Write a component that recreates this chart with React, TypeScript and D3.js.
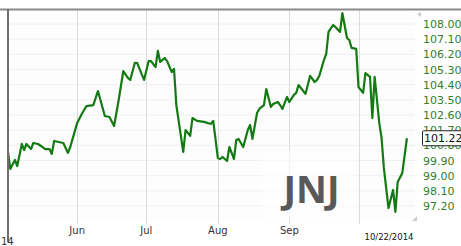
import React from 'react'
import * as d3 from 'd3'

// JNJ daily closes, May - Oct 2014
const dates = [
  '2014-05-02', '2014-05-03', '2014-05-05', '2014-05-06', '2014-05-08', '2014-05-09', '2014-05-10',
  '2014-05-12', '2014-05-13', '2014-05-15', '2014-05-17', '2014-05-18', '2014-05-20', '2014-05-21',
  '2014-05-22', '2014-05-24', '2014-05-26', '2014-05-28', '2014-05-29', '2014-06-01', '2014-06-03',
  '2014-06-05', '2014-06-08', '2014-06-10', '2014-06-13', '2014-06-15', '2014-06-17', '2014-06-19',
  '2014-06-21', '2014-06-23', '2014-06-24', '2014-06-26', '2014-06-27', '2014-06-30', '2014-07-02',
  '2014-07-03', '2014-07-05', '2014-07-06', '2014-07-07', '2014-07-09', '2014-07-10', '2014-07-12',
  '2014-07-13', '2014-07-14', '2014-07-17', '2014-07-18', '2014-07-20', '2014-07-21', '2014-07-23',
  '2014-07-26', '2014-07-29', '2014-07-30', '2014-08-01', '2014-08-02', '2014-08-03', '2014-08-05',
  '2014-08-06', '2014-08-08', '2014-08-09', '2014-08-10', '2014-08-12', '2014-08-14', '2014-08-15',
  '2014-08-16', '2014-08-18', '2014-08-19', '2014-08-21', '2014-08-22', '2014-08-24', '2014-08-25',
  '2014-08-27', '2014-08-28', '2014-08-29', '2014-08-31', '2014-09-01', '2014-09-03', '2014-09-04',
  '2014-09-05', '2014-09-08', '2014-09-10', '2014-09-12', '2014-09-13', '2014-09-14', '2014-09-16',
  '2014-09-17', '2014-09-18', '2014-09-20', '2014-09-21', '2014-09-23', '2014-09-24', '2014-09-26',
  '2014-09-27', '2014-09-28', '2014-09-30', '2014-10-01', '2014-10-03', '2014-10-04', '2014-10-06',
  '2014-10-07', '2014-10-08', '2014-10-10', '2014-10-11', '2014-10-12', '2014-10-14', '2014-10-16',
  '2014-10-17', '2014-10-18', '2014-10-20', '2014-10-22'
]

const closes = [
  100.41, 99.40, 99.93, 99.57, 100.88, 100.52, 100.88,
  100.58, 100.94, 100.88, 100.70, 100.58, 100.58, 100.29,
  101.06, 101.00, 100.94, 100.35, 100.70, 102.13, 102.66,
  103.13, 103.19, 104.02, 102.54, 102.48, 101.95, 103.49,
  105.21, 104.80, 104.68, 105.69, 105.69, 104.68, 105.80,
  105.80, 105.45, 106.40, 105.75, 105.98, 105.80, 105.15,
  105.33, 103.19, 100.41, 101.71, 101.36, 102.42, 102.25,
  102.19, 102.07, 102.25, 100.05, 99.99, 100.11, 99.87,
  100.70, 99.99, 101.12, 101.18, 100.70, 101.71, 102.01,
  101.18, 102.72, 102.96, 103.19, 104.14, 103.08, 103.25,
  103.37, 103.19, 102.96, 103.67, 103.37, 103.79, 103.91,
  104.38, 103.85, 104.92, 104.56, 104.68, 104.92, 105.86,
  106.22, 107.53, 107.94, 107.82, 107.53, 108.65, 107.17,
  107.05, 106.58, 106.52, 104.26, 103.91, 105.09, 104.86,
  102.42, 104.86, 102.13, 101.24, 99.46, 97.08, 98.15,
  96.85, 98.63, 99.16, 101.22
]

const yTicks = [108.0, 107.1, 106.2, 105.3, 104.4, 103.5, 102.6, 101.7, 100.8, 99.9, 99.0, 98.1, 97.2]
const monthTicks = ['2014-06-01', '2014-07-01', '2014-08-01', '2014-09-01', '2014-10-01']
const monthLabels = ['Jun', 'Jul', 'Aug', 'Sep', '']
const lastLabel = '10/22/2014'
const symbol = 'JNJ'

const W = 461
const H = 246
const left = 8, right = 415, top = 10, bottom = 218

export default function App () {
  const parse = d3.timeParse('%Y-%m-%d')
  const data = dates.map((d, i) => ({ date: parse(d) as Date, value: closes[i] }))

  const x = d3.scaleTime()
    .domain([new Date(2014, 4, 2), new Date(2014, 9, 25, 12)])
    .range([left, right])
  const y = d3.scaleLinear()
    .domain([97.2, 108])
    .range([206, 24])

  const line = d3.line<{ date: Date, value: number }>()
    .x(d => x(d.date))
    .y(d => y(d.value))

  const last = data[data.length - 1]
  const font = '"DejaVu Sans", Verdana, sans-serif'

  return (
    <svg width={W} height={H} style={{ position: 'absolute', left: 0, top: 0 }}>
      <rect x={0} y={0} width={W} height={H} fill='#fff' />
      <rect x={left} y={top} width={right - left} height={bottom - top} fill='#fdfdfd' />

      {/* horizontal grid */}
      {yTicks.map(t => (
        <line key={'h' + t} x1={left} x2={right} y1={y(t)} y2={y(t)} stroke='#f0f0f0' strokeWidth={1} />
      ))}

      {/* month grid */}
      {monthTicks.map(m => {
        const px = Math.round(x(parse(m) as Date)) + 0.5
        return <line key={m} x1={px} x2={px} y1={top} y2={224} stroke='#dcdcdc' strokeWidth={1} />
      })}

      {/* wash behind the symbol */}
      <rect x={262} y={151} width={95} height={66} fill='#fff' opacity={0.6} />
      <text x={311.5} y={203} textAnchor='middle' fontFamily='"Open Sans", sans-serif'
        fontWeight={700} fontSize={38} fill='#595959'>{symbol}</text>

      <path d={line(data) || ''} fill='none' stroke='#137a13' strokeWidth={2.2} strokeLinejoin='round' />

      {/* frame */}
      <line x1={0} x2={W} y1={top - 0.5} y2={top - 0.5} stroke='#8a8a8a' strokeWidth={2} />
      <line x1={left} x2={left} y1={top - 1} y2={242} stroke='#707070' strokeWidth={2} />

      {/* little scroll arrows */}
      <path d='M417,14 L421,12 L421,17 Z' fill='#ccc' />
      <path d='M412,221 L417,216 L417,221 Z' fill='#ccc' />

      {/* y labels */}
      {yTicks.map(t => (
        <text key={'l' + t} x={423} y={y(t) + 4} fontFamily={font} fontSize={11} fill='#2f7f2f'>
          {t.toFixed(2)}
        </text>
      ))}
      <rect x={422.5} y={y(last.value) - 7.5} width={44} height={15} fill='#fff' stroke='#222' strokeWidth={1} rx={1} />
      <text x={424} y={y(last.value) + 4} fontFamily={font} fontSize={11} fill='#111'>
        {last.value.toFixed(2)}
      </text>

      {/* x labels */}
      {monthTicks.map((m, i) => (
        <text key={'m' + m} x={x(parse(m) as Date)} y={234} textAnchor='middle'
          fontFamily={font} fontSize={10} fill='#333'>{monthLabels[i]}</text>
      ))}
      <text x={389} y={240} textAnchor='middle' fontFamily={font} fontSize={8.5} fill='#111'>{lastLabel}</text>
      <text x={1} y={245} fontFamily={font} fontSize={10} fill='#333'>14</text>
    </svg>
  )
}
